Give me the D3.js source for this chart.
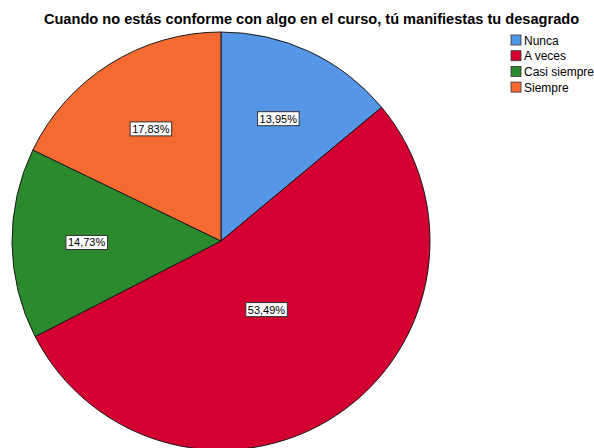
<!DOCTYPE html>
<html><head><meta charset="utf-8">
<script src="https://cdn.jsdelivr.net/npm/d3@7"></script>
<style>body{margin:0;background:#fff;} svg{display:block;}</style>
</head><body>
<svg id="c" width="594" height="448"></svg>
<script>
const title = "Cuando no estás conforme con algo en el curso, tú manifiestas tu desagrado";
const categories = ["Nunca", "A veces", "Casi siempre", "Siempre"];
const counts = [18, 69, 19, 23];
const percentLabels = ["13,95%", "53,49%", "14,73%", "17,83%"];
const colors = ["#5596e6", "#d50032", "#2b8a2e", "#f46a30"];

const svg = d3.select("#c");
const cx = 221, cy = 241, R = 209;

svg.append("text").attr("x", 311.5).attr("y", 24).attr("text-anchor", "middle")
  .attr("font-family", "Liberation Sans, Arial, sans-serif").attr("font-weight", "bold")
  .attr("font-size", 14.6).attr("fill", "#000").text(title);

const pie = d3.pie().value(d => d).sort(null);
const arcs = pie(counts);
const arc = d3.arc().innerRadius(0).outerRadius(R);
const g = svg.append("g").attr("transform", `translate(${cx},${cy})`);
g.selectAll("path").data(arcs).enter().append("path")
  .attr("d", arc).attr("fill", (d, i) => colors[i])
  .attr("stroke", "#1a1a1a").attr("stroke-width", 1);

// labels at sector area centroid
const lab = g.selectAll("g.lab").data(arcs).enter().append("g").attr("class", "lab")
  .attr("transform", d => {
    const half = (d.endAngle - d.startAngle) / 2;
    const mid = d.startAngle + half;
    const dist = 2 * R * Math.sin(half) / (3 * half);
    return `translate(${dist * Math.sin(mid)},${-dist * Math.cos(mid)})`;
  });
lab.each(function(d, i) {
  const s = d3.select(this);
  const t = s.append("text").attr("text-anchor", "middle").attr("dy", "0.35em")
    .attr("font-family", "Liberation Sans, Arial, sans-serif").attr("font-size", 11)
    .attr("fill", "#000").text(percentLabels[i]);
  const bb = t.node().getBBox();
  s.insert("rect", "text").attr("x", bb.x - 2).attr("y", bb.y - 1)
    .attr("width", bb.width + 4).attr("height", bb.height + 2)
    .attr("fill", "#fff").attr("stroke", "#333").attr("stroke-width", 1);
});

const leg = svg.append("g").attr("transform", "translate(511,35)");
const items = leg.selectAll("g").data(categories).enter().append("g")
  .attr("transform", (d, i) => `translate(0,${i * 15.7})`);
items.append("rect").attr("width", 10).attr("height", 10)
  .attr("fill", (d, i) => colors[i]).attr("stroke", "#333").attr("stroke-width", 0.8);
items.append("text").attr("x", 13).attr("y", 9.5)
  .attr("font-family", "Liberation Sans, Arial, sans-serif").attr("font-size", 12)
  .attr("fill", "#000").text(d => d);
</script>
</body></html>
